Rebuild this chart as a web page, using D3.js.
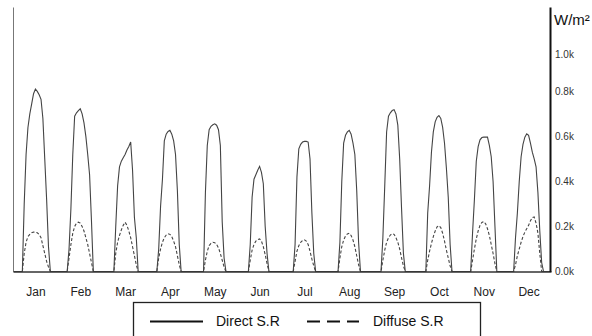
<!DOCTYPE html>
<html>
<head>
<meta charset="utf-8">
<script src="https://cdn.jsdelivr.net/npm/d3@7/dist/d3.min.js"></script>
<style>
  body { margin: 0; background: #fff; }
  svg { display: block; }
</style>
</head>
<body>
<div id="chart"></div>
<script>
// Months and the hour at which each month's daylight profile begins
const months = ["Jan", "Feb", "Mar", "Apr", "May", "Jun", "Jul", "Aug", "Sep", "Oct", "Nov", "Dec"];
const firstHour = [5, 5, 6, 5, 6, 6, 6, 6, 5, 5, 5, 4];

// Hourly direct solar radiation (W/m²), one row per month, starting at firstHour
const directSR = [
  [0, 300, 520, 640, 700, 745, 790, 810, 800, 785, 765, 680, 500, 320, 110, 0],
  [0, 100, 280, 520, 690, 705, 715, 723, 700, 660, 600, 520, 430, 227, 0],
  [0, 200, 380, 465, 490, 505, 520, 540, 555, 575, 450, 240, 150, 0],
  [0, 100, 290, 410, 580, 610, 622, 627, 610, 580, 520, 360, 120, 0],
  [0, 350, 560, 630, 645, 652, 656, 650, 630, 560, 220, 60, 0],
  [0, 120, 330, 410, 430, 450, 467, 440, 390, 200, 80, 0],
  [0, 120, 420, 545, 565, 575, 578, 578, 575, 500, 260, 80, 0],
  [0, 130, 400, 570, 605, 620, 627, 610, 570, 520, 360, 130, 0],
  [0, 150, 380, 620, 690, 705, 715, 719, 700, 650, 500, 280, 80, 0],
  [0, 260, 380, 530, 620, 665, 685, 693, 680, 640, 570, 460, 330, 120, 0],
  [0, 170, 320, 490, 555, 585, 595, 597, 597, 597, 560, 510, 400, 200, 0],
  [0, 150, 260, 400, 510, 565, 597, 612, 605, 570, 530, 500, 465, 350, 180, 40, 0]
];

// Hourly diffuse solar radiation (W/m²)
const diffuseSR = [
  [0, 80, 130, 155, 165, 172, 175, 175, 172, 165, 150, 115, 80, 45, 20, 0],
  [0, 60, 120, 170, 200, 215, 219, 215, 200, 180, 150, 120, 80, 40, 0],
  [0, 80, 130, 160, 185, 205, 219, 205, 180, 150, 110, 70, 30, 0],
  [0, 60, 100, 130, 150, 162, 168, 165, 155, 135, 110, 70, 30, 0],
  [0, 50, 90, 115, 125, 130, 128, 120, 105, 80, 50, 20, 0],
  [0, 50, 95, 120, 135, 142, 145, 135, 110, 75, 35, 0],
  [0, 45, 90, 115, 130, 138, 141, 135, 120, 90, 55, 25, 0],
  [0, 60, 110, 140, 158, 167, 170, 160, 140, 110, 70, 30, 0],
  [0, 50, 95, 130, 150, 162, 168, 165, 150, 130, 100, 60, 25, 0],
  [0, 50, 90, 125, 155, 180, 198, 204, 195, 170, 135, 95, 60, 25, 0],
  [0, 50, 100, 145, 180, 205, 218, 222, 212, 190, 160, 120, 80, 35, 0],
  [0, 30, 70, 100, 130, 155, 175, 190, 205, 225, 240, 242, 215, 170, 80, 0, 0]
];

const yTicks = [0, 200, 400, 600, 800, 1000];
const seriesNames = ["Direct S.R", "Diffuse S.R"];

const width = 592, height = 336;
const font = "'Liberation Sans', Arial, sans-serif";

// expand monthly daylight rows into a continuous hourly series (night = 0)
function toSeries(rows) {
  const out = [];
  months.forEach((m, i) => {
    for (let h = 0; h < 24; h++) {
      const k = h - firstHour[i];
      const v = (k >= 0 && k < rows[i].length) ? rows[i][k] : 0;
      out.push({ t: i * 24 + h, v: v });
    }
  });
  out.push({ t: 288, v: 0 });
  return out;
}

const svg = d3.select("#chart")
  .append("svg")
  .attr("width", width)
  .attr("height", height);

const x = d3.scaleLinear().domain([0, 288]).range([13, 551]);
const y = d3.scaleLinear().domain([0, 1175]).range([271.5, 7]);

const line = d3.line()
  .x(d => x(d.t))
  .y(d => y(d.v));

// Curves
svg.append("path")
  .datum(toSeries(diffuseSR))
  .attr("d", line)
  .attr("fill", "none")
  .attr("stroke", "#444")
  .attr("stroke-width", 1.1)
  .attr("stroke-dasharray", "3,2");

svg.append("path")
  .datum(toSeries(directSR))
  .attr("d", line)
  .attr("fill", "none")
  .attr("stroke", "#444")
  .attr("stroke-width", 1.1);

// Left axis (line only)
svg.append("g")
  .attr("transform", "translate(13,0)")
  .call(d3.axisLeft(y).tickValues([]).tickSizeOuter(0))
  .call(g => g.select(".domain").attr("stroke", "#777").attr("stroke-width", 1));

// Bottom axis with month labels
const xAxis = svg.append("g")
  .attr("transform", "translate(0,271.5)")
  .call(d3.axisBottom(x)
    .tickValues(months.map((m, i) => i * 24 + 12))
    .tickFormat((d, i) => months[i])
    .tickSize(0)
    .tickPadding(15.5)
    .tickSizeOuter(0));
xAxis.select(".domain").attr("stroke", "#333").attr("stroke-width", 1.5);
xAxis.selectAll("text")
  .attr("font-family", font)
  .attr("font-size", "12px")
  .attr("fill", "#222");

// Right axis with value ticks
const yAxis = svg.append("g")
  .attr("transform", "translate(550,0)")
  .call(d3.axisRight(y)
    .tickValues(yTicks)
    .tickFormat(d => (d / 1000).toFixed(1) + "k")
    .tickSize(0)
    .tickPadding(5)
    .tickSizeOuter(0));
yAxis.select(".domain").attr("stroke", "#111").attr("stroke-width", 2);
yAxis.selectAll("text")
  .attr("font-family", font)
  .attr("font-size", "10px")
  .attr("fill", "#333")
  .attr("dy", d => d === 1000 ? "1.15em" : "0.32em");

// Unit label
svg.append("text")
  .attr("x", 554)
  .attr("y", 25)
  .attr("font-family", font)
  .attr("font-size", "15px")
  .attr("fill", "#111")
  .text("W/m²");

// Legend
const legend = svg.append("g");
legend.append("rect")
  .attr("x", 133.5)
  .attr("y", 302.5)
  .attr("width", 347)
  .attr("height", 40)
  .attr("fill", "#fff")
  .attr("stroke", "#222")
  .attr("stroke-width", 1.3);

const legendItems = [
  { name: seriesNames[0], x1: 150, x2: 203, tx: 216, dash: null },
  { name: seriesNames[1], x1: 307, x2: 359, tx: 373, dash: "13,7" }
];
legendItems.forEach(item => {
  legend.append("line")
    .attr("x1", item.x1)
    .attr("x2", item.x2)
    .attr("y1", 321.5)
    .attr("y2", 321.5)
    .attr("stroke", "#111")
    .attr("stroke-width", 2.2)
    .attr("stroke-dasharray", item.dash);
  legend.append("text")
    .attr("x", item.tx)
    .attr("y", 326)
    .attr("font-family", font)
    .attr("font-size", "14px")
    .attr("fill", "#111")
    .text(item.name);
});
</script>
</body>
</html>
